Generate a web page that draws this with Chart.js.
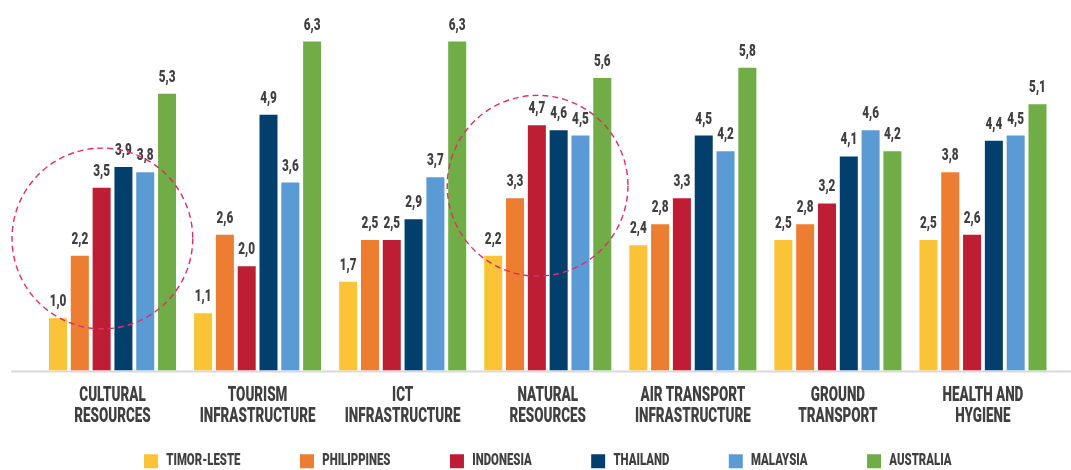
<!DOCTYPE html>
<html>
<head>
<meta charset="utf-8">
<script src="https://cdn.jsdelivr.net/npm/chart.js@4.4.1/dist/chart.umd.min.js"></script>
<style>
  html, body { margin: 0; padding: 0; background: #ffffff; }
  canvas { display: block; }
</style>
</head>
<body>
<canvas id="chart" width="1071" height="470"></canvas>
<script>
// Pillar categories (two-line axis labels)
const categories = [
  ['CULTURAL', 'RESOURCES'],
  ['TOURISM', 'INFRASTRUCTURE'],
  ['ICT', 'INFRASTRUCTURE'],
  ['NATURAL', 'RESOURCES'],
  ['AIR TRANSPORT', 'INFRASTRUCTURE'],
  ['GROUND', 'TRANSPORT'],
  ['HEALTH AND', 'HYGIENE']
];

// Scores per country
const timorLeste  = [1.0, 1.1, 1.7, 2.2, 2.4, 2.5, 2.5];
const philippines = [2.2, 2.6, 2.5, 3.3, 2.8, 2.8, 3.8];
const indonesia   = [3.5, 2.0, 2.5, 4.7, 3.3, 3.2, 2.6];
const thailand    = [3.9, 4.9, 2.9, 4.6, 4.5, 4.1, 4.4];
const malaysia    = [3.8, 3.6, 3.7, 4.5, 4.2, 4.6, 4.5];
const australia   = [5.3, 6.3, 6.3, 5.6, 5.8, 4.2, 5.1];

const seriesNames = ['TIMOR-LESTE', 'PHILIPPINES', 'INDONESIA', 'THAILAND', 'MALAYSIA', 'AUSTRALIA'];
const seriesValues = [timorLeste, philippines, indonesia, thailand, malaysia, australia];
const seriesColors = ['#FBC336', '#ED7D31', '#BE1E34', '#023F6C', '#5B9BD5', '#70AD47'];

// Groups singled out with a dashed ring: category index and the value at the ring's centre
const highlightedGroups = [
  { index: 0, centre: 2.53 },
  { index: 3, centre: 3.54 }
];

const FONT = "Roboto, 'DejaVu Sans', sans-serif";
const WEIGHT = 900;
const TEXT = '#404040';
const SQUEEZE = 0.69; // horizontal text compression for a condensed look

// Condensed lettering: every text run on this canvas is drawn narrower
function condenseText(ctx) {
  const fill = ctx.fillText.bind(ctx);
  const measure = ctx.measureText.bind(ctx);
  ctx.fillText = function (text, x, y, maxWidth) {
    this.save();
    this.translate(x, y);
    this.scale(SQUEEZE, 1);
    if (maxWidth === undefined || maxWidth === null) fill(text, 0, 0);
    else fill(text, 0, 0, maxWidth / SQUEEZE);
    this.restore();
  };
  ctx.measureText = function (text) {
    const m = measure(text);
    return {
      width: m.width * SQUEEZE,
      actualBoundingBoxLeft: m.actualBoundingBoxLeft * SQUEEZE,
      actualBoundingBoxRight: m.actualBoundingBoxRight * SQUEEZE,
      actualBoundingBoxAscent: m.actualBoundingBoxAscent,
      actualBoundingBoxDescent: m.actualBoundingBoxDescent,
      fontBoundingBoxAscent: m.fontBoundingBoxAscent,
      fontBoundingBoxDescent: m.fontBoundingBoxDescent
    };
  };
}

// Comma-decimal value labels above each bar
const valueLabels = {
  id: 'valueLabels',
  afterDatasetsDraw(chart, args, opts) {
    const ctx = chart.ctx;
    ctx.save();
    ctx.font = `${WEIGHT} ${opts.size}px ${FONT}`;
    ctx.fillStyle = TEXT;
    ctx.textAlign = 'center';
    ctx.textBaseline = 'alphabetic';
    chart.data.datasets.forEach((ds, di) => {
      chart.getDatasetMeta(di).data.forEach((bar, i) => {
        const txt = ds.data[i].toFixed(1).replace('.', ',');
        ctx.fillText(txt, bar.x, bar.y - opts.gap);
      });
    });
    ctx.restore();
  }
};

// Light grey baseline under the bars
const baseline = {
  id: 'baseline',
  beforeDatasetsDraw(chart, args, opts) {
    const ctx = chart.ctx;
    const y = chart.scales.y.getPixelForValue(0) + 1;
    ctx.save();
    ctx.strokeStyle = opts.color;
    ctx.lineWidth = opts.width;
    ctx.beginPath();
    ctx.moveTo(opts.startX, y);
    ctx.lineTo(chart.width, y);
    ctx.stroke();
    ctx.restore();
  }
};

// Dashed rings around highlighted groups
const rings = {
  id: 'rings',
  afterDatasetsDraw(chart, args, opts) {
    const { x, y } = chart.scales;
    const ctx = chart.ctx;
    const catWidth = x.getPixelForValue(1) - x.getPixelForValue(0);
    const r = y.getPixelForValue(0) - y.getPixelForValue(opts.radius);
    ctx.save();
    ctx.strokeStyle = opts.color;
    ctx.lineWidth = opts.width;
    ctx.setLineDash(opts.dash);
    highlightedGroups.forEach(g => {
      const cx = x.getPixelForValue(g.index) + opts.shift * catWidth;
      const cy = y.getPixelForValue(g.centre);
      ctx.beginPath();
      ctx.arc(cx, cy, r, 0, Math.PI * 2);
      ctx.stroke();
    });
    ctx.restore();
  }
};

// Wide gaps between legend entries without a tall legend box
const legendSpacing = {
  id: 'legendSpacing',
  beforeInit(chart, args, opts) {
    const legend = chart.legend;
    const fit = legend.fit;
    legend.fit = function () {
      fit.call(this);
      this.height = opts.height;
    };
  },
  afterLayout(chart, args, opts) {
    const legend = chart.legend;
    legend.top = opts.rowTop - legend.options.labels.padding;
  }
};

const canvas = document.getElementById('chart');
const context = canvas.getContext('2d');
condenseText(context);

new Chart(context, {
  type: 'bar',
  data: {
    labels: categories,
    datasets: seriesNames.map((name, i) => ({
      label: name,
      data: seriesValues[i],
      backgroundColor: seriesColors[i],
      borderWidth: 0,
      categoryPercentage: 0.902,
      barPercentage: 0.826
    }))
  },
  options: {
    responsive: false,
    animation: false,
    layout: { padding: { left: 40, right: 15.5, top: 5, bottom: 0 } },
    scales: {
      x: {
        grid: { display: false, drawTicks: false },
        border: { display: false },
        ticks: {
          color: TEXT,
          padding: 15.5,
          autoSkip: false,
          maxRotation: 0,
          font: { family: FONT, size: 19.5, weight: WEIGHT, lineHeight: 20.7 / 19.5 }
        }
      },
      y: {
        display: false,
        min: 0,
        max: 7
      }
    },
    plugins: {
      tooltip: { enabled: false },
      legend: {
        position: 'bottom',
        labels: {
          color: TEXT,
          boxWidth: 14,
          boxHeight: 14,
          padding: 59.5,
          font: { family: FONT, size: 16.5, weight: WEIGHT }
        }
      },
      valueLabels: { size: 17, gap: 12 },
      baseline: { color: '#D9D9D9', width: 2, startX: 11 },
      rings: { color: '#DD2E6B', width: 1.4, dash: [6, 4], radius: 1.73, shift: -0.07 },
      legendSpacing: { height: 27, rowTop: 453 }
    }
  },
  plugins: [legendSpacing, baseline, valueLabels, rings]
});
</script>
</body>
</html>
